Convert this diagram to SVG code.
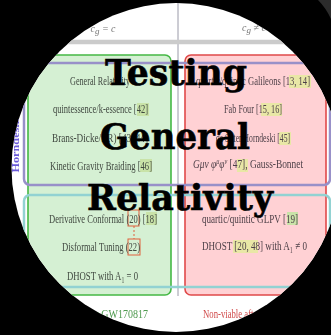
<svg xmlns="http://www.w3.org/2000/svg" width="331" height="335" viewBox="0 0 331 335">
<defs>
<clipPath id="disc"><circle cx="176" cy="167.5" r="164.5"/></clipPath>
<filter id="soft" x="-5%" y="-5%" width="110%" height="110%"><feGaussianBlur stdDeviation="0.75"/></filter>
<style>
.t{font-family:"Liberation Serif","Times New Roman",serif;font-size:13.5px;fill:#404840}
.r{fill:#4e4048}
.it{font-style:italic}
.sub{font-size:9px}
.hdr{font-family:"Liberation Serif",serif;font-size:10px;font-style:italic;fill:#777}
.cg{fill:#c9e3a8}
.cr{fill:#e9e7a6}
.eq{fill:none;stroke:#e0603c;stroke-width:1}
.title{font-family:"DejaVu Serif",serif;font-weight:bold;font-size:35px;fill:#000;stroke:#000;stroke-width:0.6}
</style>
</defs>
<rect width="331" height="335" fill="#000"/>
<path d="M318 0 Q326 8 331 19 L331 0 Z" fill="#2c2c2c"/>
<circle cx="176" cy="167.5" r="164.5" fill="#fff"/>
<g clip-path="url(#disc)">
<g filter="url(#soft)">
<g id="connectors">
<line x1="178" y1="0" x2="178" y2="296" stroke="#9a9aa8" stroke-width="1"/>
<line x1="0" y1="42" x2="331" y2="42" stroke="#cbcbcb" stroke-width="4.5"/>
</g>
<g id="header">
<text class="hdr" x="103" y="32" text-anchor="middle">c<tspan class="sub" dy="2">g</tspan><tspan dy="-2"> = c</tspan></text>
<text class="hdr" x="254" y="31" text-anchor="middle">c<tspan class="sub" dy="2">g</tspan><tspan dy="-2"> ≠ c</tspan></text>
</g>
<g id="viable">
<rect x="28" y="55" width="143" height="240" rx="6" fill="#d5f0d3" stroke="#45b845" stroke-width="1.6"/>
</g>
<g id="nonviable">
<rect x="185" y="55" width="141" height="240" rx="6" fill="#ffd1d4" stroke="#e04a4a" stroke-width="1.6"/>
</g>
<g id="horndeski">
<rect x="24" y="63" width="306" height="122" rx="6" fill="none" stroke="#9890c8" stroke-width="2.5"/>
<text x="19" y="145" transform="rotate(-90 19 145)" text-anchor="middle" font-family="Liberation Serif,serif" font-weight="bold" font-size="10" fill="#6a5ad8" textLength="55" lengthAdjust="spacingAndGlyphs">Horndeski</text>
</g>
<g id="beyond">
<rect x="24" y="195" width="306" height="92" rx="6" fill="none" stroke="#92d2d2" stroke-width="2.5"/>
</g>
<g id="citations">
<rect class="cg" x="137" y="103" width="12" height="13"/>
<rect class="cg" x="140" y="159" width="12" height="13"/>
<rect class="cg" x="146" y="212" width="11" height="13"/>
<rect class="cr" x="289" y="75" width="22" height="13"/>
<rect class="cr" x="261" y="103" width="21" height="13"/>
<rect class="cr" x="279" y="132" width="12" height="13"/>
<rect class="cr" x="237" y="159" width="11" height="13"/>
<rect class="cg" x="287" y="212" width="11" height="13"/>
<rect class="cr" x="233" y="240" width="25" height="13"/>
<rect class="eq" x="128" y="210" width="11" height="16"/>
<rect class="eq" x="128" y="239" width="12" height="16"/>
<line class="eq" x1="134" y1="226" x2="134" y2="239" stroke-dasharray="2 2"/>
</g>
<g id="viable-list">
<text class="t" x="70" y="85" textLength="60" lengthAdjust="spacingAndGlyphs">General Relativity</text>
<text class="t" x="53" y="113" textLength="95" lengthAdjust="spacingAndGlyphs">quintessence/k-essence [42]</text>
<text class="t" x="52" y="142" textLength="96" lengthAdjust="spacingAndGlyphs">Brans-Dicke/f(R) [43, 44]</text>
<text class="t" x="50" y="170" textLength="102" lengthAdjust="spacingAndGlyphs">Kinetic Gravity Braiding [46]</text>
<text class="t" x="49" y="223" textLength="108" lengthAdjust="spacingAndGlyphs">Derivative Conformal (20) [18]</text>
<text class="t" x="62" y="251" textLength="78" lengthAdjust="spacingAndGlyphs">Disformal Tuning (22)</text>
<text class="t" x="67" y="280" textLength="71" lengthAdjust="spacingAndGlyphs">DHOST with A₁ = 0</text>
<text class="t" x="52" y="318" textLength="96" lengthAdjust="spacingAndGlyphs" style="fill:#4f9a4f">Viable after GW170817</text>
</g>
<g id="nonviable-list">
<text class="t r" x="196" y="85" textLength="114" lengthAdjust="spacingAndGlyphs">quartic/quintic Galileons [13, 14]</text>
<text class="t r" x="224" y="113" textLength="58" lengthAdjust="spacingAndGlyphs">Fab Four [15, 16]</text>
<text class="t r" x="216" y="142" textLength="74" lengthAdjust="spacingAndGlyphs">de Sitter Horndeski [45]</text>
<text class="t r" x="193" y="168" textLength="110" lengthAdjust="spacingAndGlyphs"><tspan class="it">Gμν φ</tspan><tspan class="sub it" dy="-4">μ</tspan><tspan class="it" dy="4">φ</tspan><tspan class="sub it" dy="-4">ν</tspan><tspan dy="4"> [47], Gauss-Bonnet</tspan></text>
<text class="t r" x="202" y="223" textLength="96" lengthAdjust="spacingAndGlyphs">quartic/quintic GLPV [19]</text>
<text class="t r" x="202" y="250" textLength="105" lengthAdjust="spacingAndGlyphs">DHOST [20, 48] with A₁ ≠ 0</text>
<text class="t" x="203" y="318" textLength="100" lengthAdjust="spacingAndGlyphs" style="fill:#d04848">Non-viable after GW170817</text>
</g>
</g>
</g>
<g id="title">
<text class="title" x="105" y="85" textLength="142" lengthAdjust="spacingAndGlyphs">Testing</text>
<text class="title" x="100" y="149" textLength="150" lengthAdjust="spacingAndGlyphs">General</text>
<text class="title" x="87" y="210" textLength="186" lengthAdjust="spacingAndGlyphs">Relativity</text>
</g>
</svg>
